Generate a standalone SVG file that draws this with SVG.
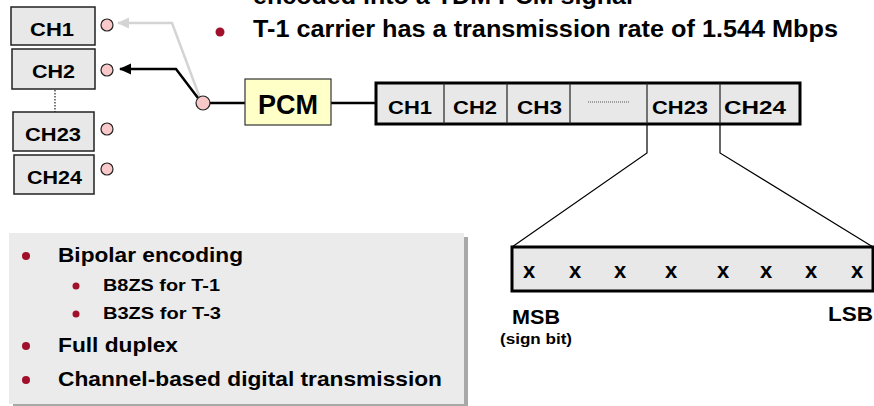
<svg xmlns="http://www.w3.org/2000/svg" width="874" height="406" viewBox="0 0 874 406">
<style>
text{font-family:"Liberation Sans",Arial,sans-serif;font-weight:700;fill:#000}
.ch{fill:#e8e8e8;stroke:#222;stroke-width:1.5}
.port{fill:#f9c8c8;stroke:#222;stroke-width:1.2}
.lbl{font-size:18px}
.bul{fill:#a0102a}
.x{font-size:22px;text-anchor:middle}
</style>
<defs>
<marker id="ahk" markerWidth="12" markerHeight="12" refX="11" refY="5.5" orient="auto" markerUnits="userSpaceOnUse"><path d="M0,0 L12,5.5 L0,11 Z" fill="#000"/></marker>
<marker id="ahg" markerWidth="12" markerHeight="12" refX="11" refY="5.5" orient="auto" markerUnits="userSpaceOnUse"><path d="M0,0 L12,5.5 L0,11 Z" fill="#d4d4d4"/></marker>
</defs>

<text x="253" y="4" font-size="23" textLength="380" lengthAdjust="spacingAndGlyphs">encoded into a TDM PCM signal</text>
<g id="title">
<circle class="bul" cx="220" cy="32" r="4.5"/>
<text x="253" y="37" font-size="23" textLength="585" lengthAdjust="spacingAndGlyphs">T-1 carrier has a transmission rate of 1.544 Mbps</text>
</g>

<g id="ch1"><rect class="ch" x="11" y="7" width="84" height="38"/><text class="lbl" x="30" y="36" textLength="44" lengthAdjust="spacingAndGlyphs">CH1</text><circle class="port" cx="107" cy="25" r="6"/></g>
<g id="ch2"><rect class="ch" x="12" y="49" width="83" height="40"/><text class="lbl" x="32" y="78" textLength="43" lengthAdjust="spacingAndGlyphs">CH2</text><circle class="port" cx="107" cy="70" r="6"/></g>
<line x1="55" y1="90" x2="55" y2="112" stroke="#222" stroke-width="1.2" stroke-dasharray="1.5,1.5"/>
<g id="ch23"><rect class="ch" x="13" y="112" width="81" height="39"/><text class="lbl" x="25" y="141" textLength="56" lengthAdjust="spacingAndGlyphs">CH23</text><circle class="port" cx="107" cy="129" r="6"/></g>
<g id="ch24"><rect class="ch" x="14" y="155" width="80" height="39"/><text class="lbl" x="27" y="184" textLength="55" lengthAdjust="spacingAndGlyphs">CH24</text><circle class="port" cx="107" cy="169" r="6"/></g>

<g id="connectors" fill="none">
<polyline points="200,98 172,23 118,23" stroke="#d4d4d4" stroke-width="2.5" marker-end="url(#ahg)"/>
<polyline points="198,98 176,69 120,69" stroke="#000" stroke-width="2.5" marker-end="url(#ahk)"/>
<line x1="202" y1="103" x2="245" y2="103" stroke="#000" stroke-width="2.5"/>
<line x1="331" y1="103" x2="376" y2="103" stroke="#000" stroke-width="2.5"/>
<polyline points="647,124 647,153 512,247" stroke="#000" stroke-width="1.2"/>
<polyline points="720,124 720,153 873,247" stroke="#000" stroke-width="1.2"/>
</g>

<g id="switch"><circle class="port" cx="203" cy="103" r="7"/></g>

<g id="pcm">
<rect x="245" y="79" width="86" height="46" fill="#ffffc8" stroke="#333" stroke-width="1.2"/>
<text x="258" y="114" font-size="27" textLength="60" lengthAdjust="spacingAndGlyphs">PCM</text>
</g>

<g id="frame">
<rect x="376" y="83" width="424" height="41" fill="#e8e8e8" stroke="#000" stroke-width="3"/>
<g stroke="#222" stroke-width="1.2">
<line x1="444" y1="83" x2="444" y2="124"/>
<line x1="507" y1="83" x2="507" y2="124"/>
<line x1="570" y1="83" x2="570" y2="124"/>
<line x1="647" y1="83" x2="647" y2="124"/>
<line x1="720" y1="83" x2="720" y2="124"/>
</g>
<line x1="588" y1="102" x2="630" y2="102" stroke="#555" stroke-width="1" stroke-dasharray="1,1"/>
<text class="lbl" x="388" y="114" textLength="44" lengthAdjust="spacingAndGlyphs">CH1</text>
<text class="lbl" x="453" y="114" textLength="44" lengthAdjust="spacingAndGlyphs">CH2</text>
<text class="lbl" x="517" y="114" textLength="45" lengthAdjust="spacingAndGlyphs">CH3</text>
<text class="lbl" x="652" y="114" textLength="56" lengthAdjust="spacingAndGlyphs">CH23</text>
<text class="lbl" x="724" y="114" textLength="62" lengthAdjust="spacingAndGlyphs">CH24</text>
</g>

<g id="bits">
<rect x="512" y="247" width="361" height="44" fill="#e8e8e8" stroke="#000" stroke-width="3"/>
<text class="x" x="529" y="278">x</text>
<text class="x" x="575" y="278">x</text>
<text class="x" x="620" y="278">x</text>
<text class="x" x="671" y="278">x</text>
<text class="x" x="723" y="278">x</text>
<text class="x" x="766" y="278">x</text>
<text class="x" x="811" y="278">x</text>
<text class="x" x="857" y="278">x</text>
<text x="512" y="324" font-size="21" textLength="48" lengthAdjust="spacingAndGlyphs">MSB</text>
<text x="500" y="344" font-size="14" textLength="72" lengthAdjust="spacingAndGlyphs">(sign bit)</text>
<text x="828" y="321" font-size="21" textLength="45" lengthAdjust="spacingAndGlyphs">LSB</text>
</g>

<g id="features">
<rect x="13" y="237" width="455" height="171" fill="#a8a8a8"/>
<rect x="9" y="233" width="455" height="171" fill="#ebebeb"/>
<circle class="bul" cx="26" cy="256" r="4"/>
<text x="58" y="262" font-size="21" textLength="185" lengthAdjust="spacingAndGlyphs">Bipolar encoding</text>
<circle class="bul" cx="76" cy="286" r="3.5"/>
<text x="103" y="291" font-size="17" textLength="117" lengthAdjust="spacingAndGlyphs">B8ZS for T-1</text>
<circle class="bul" cx="76" cy="314" r="3.5"/>
<text x="103" y="319" font-size="17" textLength="118" lengthAdjust="spacingAndGlyphs">B3ZS for T-3</text>
<circle class="bul" cx="26" cy="346" r="4"/>
<text x="58" y="352" font-size="21" textLength="120" lengthAdjust="spacingAndGlyphs">Full duplex</text>
<circle class="bul" cx="26" cy="380" r="4"/>
<text x="58" y="386" font-size="21" textLength="384" lengthAdjust="spacingAndGlyphs">Channel-based digital transmission</text>
</g>
</svg>
